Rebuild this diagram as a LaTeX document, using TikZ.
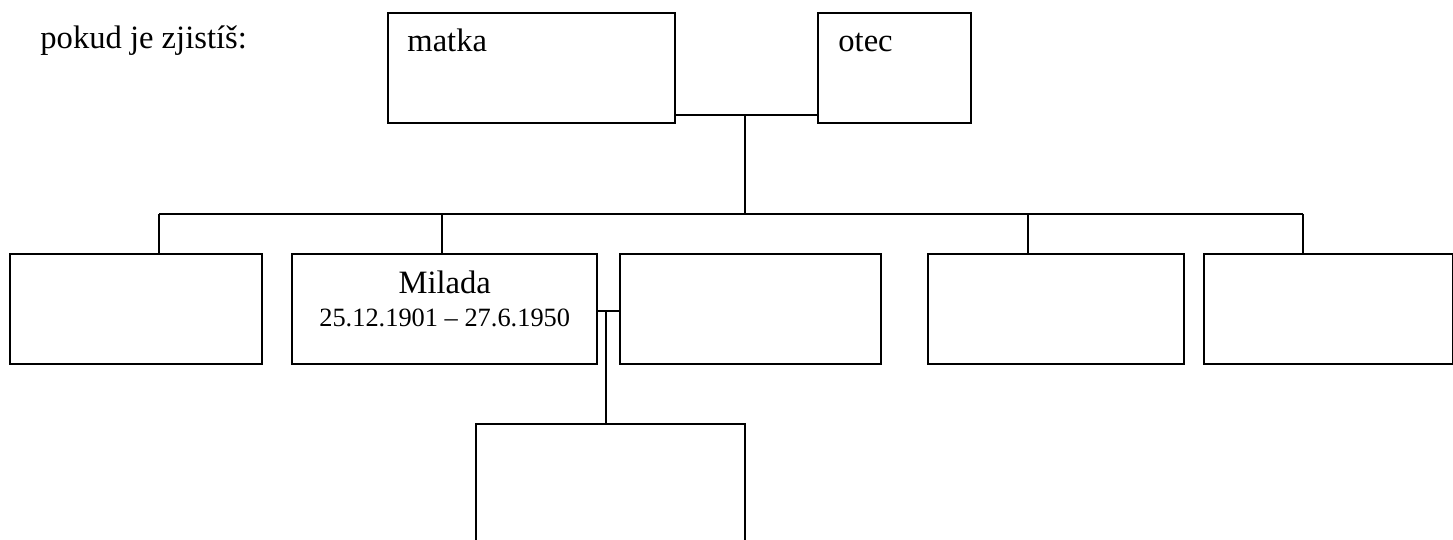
\documentclass[tikz,border=0pt]{standalone}
\usepackage{fontspec}
\setmainfont{Liberation Serif}
\usepackage{tikz}

\begin{document}
\begin{tikzpicture}[
    x=0.5pt, y=-0.5pt,
    every node/.style={font=\fontsize{16.3}{19}\selectfont},
    osoba/.style={draw, line width=1.2pt, inner sep=0pt, anchor=north west, minimum height=55pt},
    popis/.style={anchor=base west, inner sep=0pt},
    datum/.style={anchor=base, inner sep=0pt, font=\fontsize{13.2}{15}\selectfont},
    spoj/.style={line width=1pt}
]
\useasboundingbox (0,0) rectangle (1453,540);
\node[popis] (otazka) at (40,49) {pokud je zjistíš:};
% rodice
\node[osoba, minimum width=143.5pt] (matka) at (387,12) {};
\node[osoba, minimum width=76.5pt] (otec) at (817,12) {};
\node[popis] (matkatext) at ([shift={(20,40)}]matka.north west) {matka};
\node[popis] (otectext) at ([shift={(21,40)}]otec.north west) {otec};
% deti
\node[osoba, minimum width=126pt] (dite1) at (9,253) {};
\node[osoba, minimum width=152.5pt] (milada) at (291,253) {};
\node[osoba, minimum width=130.5pt] (manzel) at (619,253) {};
\node[osoba, minimum width=128pt] (dite4) at (927,253) {};
\node[osoba, minimum width=124.5pt] (dite5) at (1203,253) {};
\node[anchor=base, inner sep=0pt] (jmeno) at ([shift={(0,40)}]milada.north) {Milada};
\node[datum] (zivot) at ([shift={(0,74)}]milada.north) {25.12.1901 – 27.6.1950};
% vnuk
\node[osoba, minimum width=134.5pt, minimum height=90pt] (vnuk) at (475,423) {};
% spojnice
\coordinate (rodice) at (745,115);
\coordinate (deti) at (745,214);
\coordinate (d1) at (159,214);
\coordinate (d2) at (442,214);
\coordinate (d4) at (1028,214);
\coordinate (d5) at (1303,214);
\coordinate (par) at (606,311);
\draw[spoj] (matka.east |- rodice) -- (otec.west |- rodice);
\draw[spoj] (rodice) -- (deti);
\draw[spoj] (d1) -- (d5);
\draw[spoj] (d1) -- (d1 |- dite1.north);
\draw[spoj] (d2) -- (d2 |- milada.north);
\draw[spoj] (d4) -- (d4 |- dite4.north);
\draw[spoj] (d5) -- (d5 |- dite5.north);
\draw[spoj] (milada.east |- par) -- (manzel.west |- par);
\draw[spoj] (par) -- (vnuk.north -| par);
\end{tikzpicture}
\end{document}
